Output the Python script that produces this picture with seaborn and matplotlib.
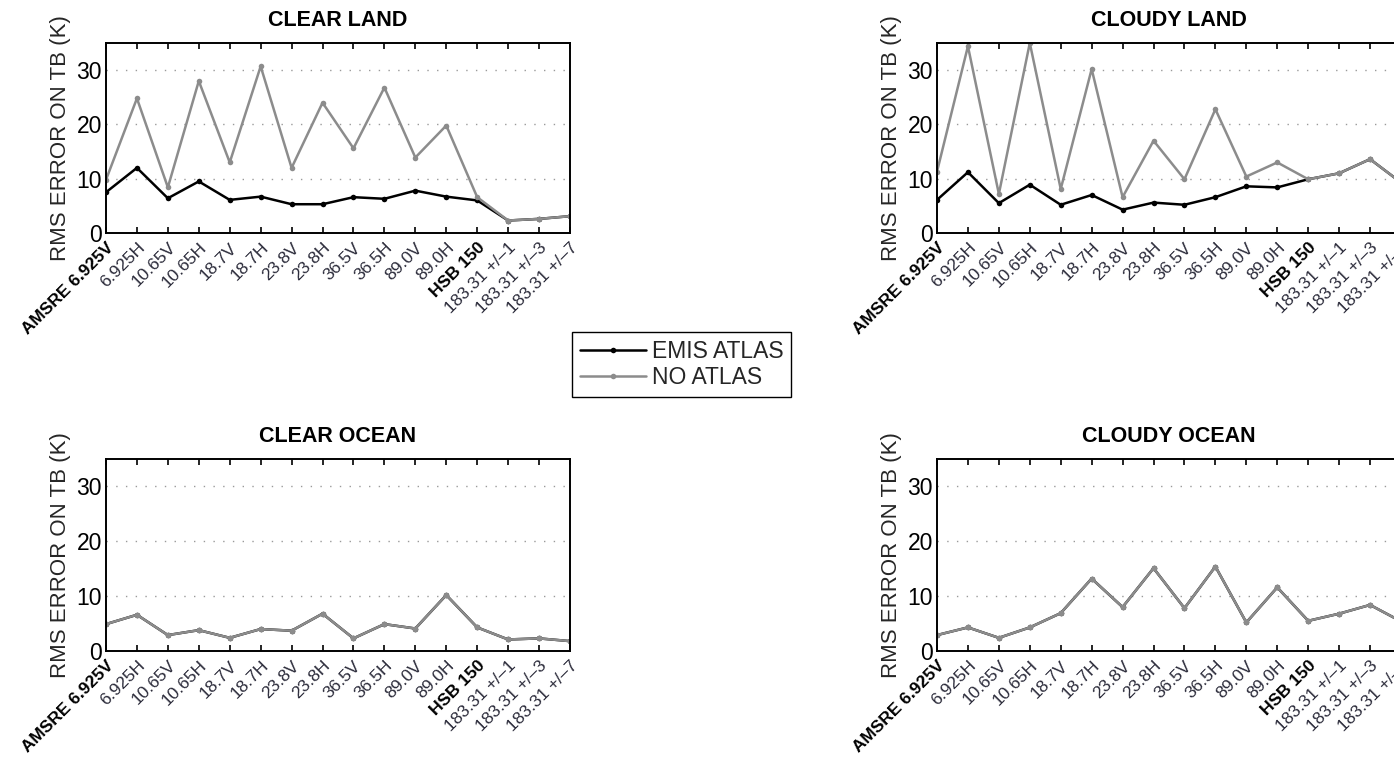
import numpy as np
import pandas as pd
import matplotlib
matplotlib.use("Agg")
import matplotlib.pyplot as plt
import seaborn as sns
from matplotlib.lines import Line2D

# ---------------- data ----------------
channels = ["AMSRE 6.925V", "6.925H", "10.65V", "10.65H", "18.7V", "18.7H",
            "23.8V", "23.8H", "36.5V", "36.5H", "89.0V", "89.0H",
            "HSB 150", "183.31 +/\u20131", "183.31 +/\u20133", "183.31 +/\u20137"]
bold_labels = ["AMSRE 6.925V", "HSB 150"]

panel_titles = ["CLEAR LAND", "CLOUDY LAND", "CLEAR OCEAN", "CLOUDY OCEAN"]
series_names = ["EMIS ATLAS", "NO ATLAS"]

clear_land_emis = [7.5, 12.0, 6.4, 9.5, 6.1, 6.7, 5.3, 5.3, 6.6, 6.3, 7.8, 6.7, 6.0, 2.3, 2.6, 3.1]
clear_land_no = [9.8, 24.8, 8.4, 28.0, 13.0, 30.7, 12.0, 24.0, 15.6, 26.8, 13.9, 19.8, 6.6, 2.3, 2.6, 3.1]

cloudy_land_emis = [6.1, 11.2, 5.5, 8.9, 5.2, 7.0, 4.3, 5.6, 5.2, 6.6, 8.6, 8.4, 9.9, 11.0, 13.6, 9.3]
cloudy_land_no = [11.3, 34.4, 7.2, 35.0, 8.1, 30.2, 6.6, 17.0, 9.9, 22.8, 10.4, 13.0, 9.9, 11.0, 13.6, 9.3]

clear_ocean_emis = [4.9, 6.6, 2.9, 3.8, 2.4, 4.0, 3.7, 6.8, 2.3, 4.9, 4.1, 10.2, 4.3, 2.1, 2.3, 1.8]
clear_ocean_no = [4.9, 6.6, 2.9, 3.8, 2.4, 4.0, 3.7, 6.8, 2.3, 4.9, 4.1, 10.2, 4.3, 2.1, 2.3, 1.8]

cloudy_ocean_emis = [2.9, 4.3, 2.4, 4.3, 6.9, 13.2, 8.0, 15.1, 7.8, 15.4, 5.2, 11.6, 5.5, 6.8, 8.4, 5.4]
cloudy_ocean_no = [2.9, 4.3, 2.4, 4.3, 6.9, 13.2, 8.0, 15.1, 7.8, 15.4, 5.2, 11.6, 5.5, 6.8, 8.4, 5.4]

panels = [
    (clear_land_emis, clear_land_no),
    (cloudy_land_emis, cloudy_land_no),
    (clear_ocean_emis, clear_ocean_no),
    (cloudy_ocean_emis, cloudy_ocean_no),
]

# ---------------- style ----------------
sns.set_theme(style="white")
plt.rcParams["font.family"] = ["Liberation Sans", "DejaVu Sans"]

colors = {"EMIS ATLAS": "#000000", "NO ATLAS": "#8c8c8c"}
label_color = "#2b2b3a"

W, H = 1394, 757
fig = plt.figure(figsize=(W / 100, H / 100), dpi=100)

ax_w = 464 / W
positions = [
    [106 / W, 1 - 233 / H, ax_w, 190 / H],
    [937 / W, 1 - 233 / H, ax_w, 190 / H],
    [106 / W, 1 - 651 / H, ax_w, 192 / H],
    [937 / W, 1 - 651 / H, ax_w, 192 / H],
]

x_idx = np.arange(len(channels))

for pos, title, (emis, noat) in zip(positions, panel_titles, panels):
    ax = fig.add_axes(pos)
    df = pd.DataFrame({
        "x": np.concatenate([x_idx, x_idx]),
        "rms": np.concatenate([emis, noat]),
        "series": [series_names[0]] * len(x_idx) + [series_names[1]] * len(x_idx),
    })
    sns.lineplot(data=df, x="x", y="rms", hue="series", palette=colors,
                 hue_order=series_names, marker="o", markersize=4,
                 markeredgewidth=0, linewidth=1.8, ax=ax, legend=False)
    ax.set_xlim(0, len(channels) - 1)
    ax.set_ylim(0, 35)
    ax.set_yticks([0, 10, 20, 30])
    ax.tick_params(axis="x", direction="in", length=4, width=1.2,
                   top=True, bottom=True, pad=5, color="black")
    ax.tick_params(axis="y", direction="in", length=0, labelsize=16.5, pad=3,
                   labelcolor="black")
    ax.set_xticks(x_idx)
    ax.set_xticklabels(channels, rotation=45, ha="right", va="top",
                       rotation_mode="anchor", fontsize=12.5)
    for t in ax.get_xticklabels():
        if t.get_text() in bold_labels:
            t.set_fontweight("bold")
            t.set_color("black")
        else:
            t.set_color(label_color)
    ax.yaxis.grid(True, linestyle=(0, (1, 6)), color="#9a9a9a", linewidth=1.0)
    ax.xaxis.grid(False)
    for s in ax.spines.values():
        s.set_visible(True)
        s.set_color("black")
        s.set_linewidth(1.4)
    ax.set_xlabel("")
    ax.set_ylabel("RMS ERROR ON TB (K)", fontsize=16, labelpad=4)
    ax.set_title(title, fontweight="bold", fontsize=15.5, pad=12.5,
                 color="black")

handles = [
    Line2D([0], [0], color=colors[n], marker="o", markersize=4,
           markeredgewidth=0, linewidth=1.8) for n in series_names
]
leg = fig.legend(handles, series_names, loc="center",
                 bbox_to_anchor=(681.5 / W, 1 - 364.5 / H),
                 fontsize=16.5, frameon=True, fancybox=False,
                 edgecolor="black", framealpha=1, handlelength=2.9,
                 handletextpad=0.25, borderpad=0.35, labelspacing=0.15,
                 borderaxespad=0)
leg.get_frame().set_linewidth(1.0)

fig.savefig("out.png", dpi=100)
